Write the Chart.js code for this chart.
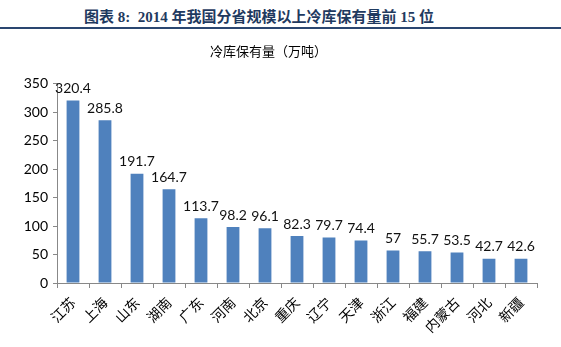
<!DOCTYPE html>
<html>
<head>
<meta charset="utf-8">
<script src="https://cdn.jsdelivr.net/npm/chart.js@4"></script>
<style>
  body { margin:0; background:#fff; width:561px; height:347px; overflow:hidden; position:relative; }
  #hdr { position:absolute; left:0; top:5px; width:518px; text-align:center;
         font-family:"Liberation Serif","Noto Sans CJK SC",serif; font-size:15px; font-weight:600; color:#1f3a60; }
  #rule { position:absolute; left:0; top:27px; width:561px; height:2px; background:#2a4670; }
  #wrap { position:absolute; left:0; top:32px; width:561px; height:315px; }
</style>
</head>
<body>
<div id="hdr">图表 8:&nbsp; 2014 年我国分省规模以上冷库保有量前 15 位</div>
<div id="rule"></div>
<div id="wrap"><canvas id="c"></canvas></div>
<script>
// data
const provinces = ['江苏','上海','山东','湖南','广东','河南','北京','重庆','辽宁','天津','浙江','福建','内蒙古','河北','新疆'];
const capacity = [320.4, 285.8, 191.7, 164.7, 113.7, 98.2, 96.1, 82.3, 79.7, 74.4, 57, 55.7, 53.5, 42.7, 42.6];
const chartTitle = '冷库保有量（万吨）';

// value labels over each bar
const barLabels = {
  id: 'barLabels',
  afterDatasetsDraw(chart){
    const ctx = chart.ctx;
    const meta = chart.getDatasetMeta(0);
    ctx.save();
    ctx.font = '14px Lato, "Liberation Sans", sans-serif';
    ctx.fillStyle = '#111';
    ctx.textAlign = 'center';
    ctx.textBaseline = 'bottom';
    meta.data.forEach((bar, i) => {
      ctx.fillText(String(capacity[i]), bar.x, bar.y - 5);
    });
    ctx.restore();
  }
};

new Chart(document.getElementById('c'), {
  type: 'bar',
  data: {
    labels: provinces,
    datasets: [{
      data: capacity,
      backgroundColor: '#4f81bd',
      barPercentage: 0.4,
      categoryPercentage: 1
    }]
  },
  options: {
    responsive: true,
    maintainAspectRatio: false,
    animation: false,
    layout: { padding: { left: 0, right: 24, top: 0, bottom: 0 } },
    plugins: {
      legend: { display: false },
      tooltip: { enabled: false },
      title: {
        display: true,
        text: chartTitle,
        color: '#000',
        font: { family: '"Noto Sans CJK SC", sans-serif', size: 13, weight: 'normal' },
        padding: { top: 11, bottom: 25 }
      }
    },
    scales: {
      x: {
        afterFit(s){ s.height = 64; },
        grid: { display: true, drawOnChartArea: false, offset: true, tickLength: 5, color: '#888' },
        border: { display: true, color: '#888' },
        ticks: {
          minRotation: 45, maxRotation: 45, color: '#000', padding: 6,
          font: { family: '"Noto Sans CJK SC", sans-serif', size: 14 }
        }
      },
      y: {
        min: 0, max: 350,
        afterFit(s){ s.width = 57; },
        grid: { display: true, drawOnChartArea: false, tickLength: 4, color: '#888' },
        border: { display: true, color: '#888' },
        ticks: {
          stepSize: 50, color: '#000', padding: 5,
          font: { family: 'Lato, "Liberation Sans", sans-serif', size: 14 }
        }
      }
    }
  },
  plugins: [barLabels]
});
</script>
</body>
</html>
